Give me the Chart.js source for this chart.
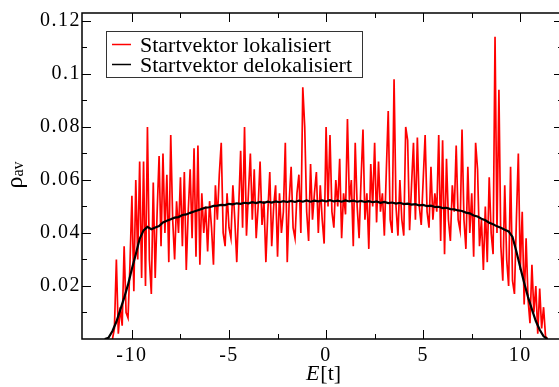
<!DOCTYPE html>
<html>
<head>
<meta charset="utf-8">
<script src="https://cdn.jsdelivr.net/npm/chart.js@4.4.1/dist/chart.umd.min.js"></script>
<style>
html, body { margin:0; padding:0; background:#fff; overflow:hidden; }
</style>
</head>
<body>
<canvas id="rhoChart" width="566" height="387"></canvas>
<script>

// energy grid and averaged density, localized start vector
var redE = [-11.0,-10.9,-10.8,-10.7,-10.6,-10.5,-10.4,-10.3,-10.2,-10.1,
  -10.0,-9.9,-9.8,-9.7,-9.6,-9.5,-9.4,-9.3,-9.2,-9.1,
  -9.0,-8.9,-8.8,-8.7,-8.6,-8.5,-8.4,-8.3,-8.2,-8.1,
  -8.0,-7.9,-7.8,-7.7,-7.6,-7.5,-7.4,-7.3,-7.2,-7.1,
  -7.0,-6.9,-6.8,-6.7,-6.6,-6.5,-6.4,-6.3,-6.2,-6.1,
  -6.0,-5.9,-5.8,-5.7,-5.6,-5.5,-5.4,-5.3,-5.2,-5.1,
  -5.0,-4.9,-4.8,-4.7,-4.6,-4.5,-4.4,-4.3,-4.2,-4.1,
  -4.0,-3.9,-3.8,-3.7,-3.6,-3.5,-3.4,-3.3,-3.2,-3.1,
  -3.0,-2.9,-2.8,-2.7,-2.6,-2.5,-2.4,-2.3,-2.2,-2.1,
  -2.0,-1.9,-1.8,-1.7,-1.6,-1.5,-1.4,-1.3,-1.2,-1.1,
  -1.0,-0.9,-0.8,-0.7,-0.6,-0.5,-0.4,-0.3,-0.2,-0.1,
  0.0,0.1,0.2,0.3,0.4,0.5,0.6,0.7,0.8,0.9,
  1.0,1.1,1.2,1.3,1.4,1.5,1.6,1.7,1.8,1.9,
  2.0,2.1,2.2,2.3,2.4,2.5,2.6,2.7,2.8,2.9,
  3.0,3.1,3.2,3.3,3.4,3.5,3.6,3.7,3.8,3.9,
  4.0,4.1,4.2,4.3,4.4,4.5,4.6,4.7,4.8,4.9,
  5.0,5.1,5.2,5.3,5.4,5.5,5.6,5.7,5.8,5.9,
  6.0,6.1,6.2,6.3,6.4,6.5,6.6,6.7,6.8,6.9,
  7.0,7.1,7.2,7.3,7.4,7.5,7.6,7.7,7.8,7.9,
  8.0,8.1,8.2,8.3,8.4,8.5,8.6,8.7,8.8,8.9,
  9.0,9.1,9.2,9.3,9.4,9.5,9.6,9.7,9.8,9.9,
  10.0,10.1,10.2,10.3,10.4,10.5,10.6,10.7,10.8,10.9,
  11.0,11.1,11.2,11.3,11.4];
var redRho = [0.000,0.004,0.030,0.002,0.012,0.005,0.035,0.010,0.008,0.028,
  0.054,0.018,0.060,0.030,0.067,0.023,0.067,0.020,0.080,0.030,
  0.017,0.059,0.023,0.048,0.069,0.035,0.070,0.040,0.062,0.029,
  0.077,0.045,0.030,0.052,0.040,0.061,0.035,0.063,0.026,0.048,
  0.064,0.038,0.072,0.031,0.073,0.028,0.055,0.040,0.050,0.033,
  0.052,0.042,0.028,0.058,0.045,0.062,0.074,0.040,0.035,0.055,
  0.042,0.038,0.058,0.045,0.029,0.050,0.071,0.042,0.080,0.039,
  0.055,0.070,0.045,0.064,0.038,0.050,0.067,0.043,0.052,0.029,
  0.048,0.063,0.035,0.050,0.058,0.031,0.055,0.040,0.048,0.074,
  0.029,0.052,0.065,0.042,0.038,0.055,0.062,0.040,0.095,0.080,
  0.048,0.037,0.066,0.045,0.055,0.063,0.040,0.058,0.045,0.036,
  0.080,0.050,0.077,0.048,0.042,0.060,0.050,0.068,0.038,0.055,
  0.047,0.083,0.052,0.060,0.035,0.074,0.050,0.038,0.060,0.079,
  0.045,0.055,0.034,0.066,0.050,0.074,0.044,0.067,0.048,0.055,
  0.039,0.063,0.086,0.045,0.040,0.098,0.050,0.039,0.060,0.045,
  0.039,0.080,0.075,0.041,0.058,0.074,0.045,0.076,0.050,0.043,
  0.060,0.077,0.048,0.042,0.065,0.045,0.055,0.048,0.077,0.037,
  0.075,0.032,0.068,0.045,0.037,0.058,0.048,0.073,0.045,0.041,
  0.079,0.045,0.034,0.065,0.040,0.055,0.031,0.074,0.064,0.035,
  0.045,0.026,0.050,0.029,0.061,0.040,0.032,0.114,0.040,0.094,
  0.035,0.022,0.058,0.030,0.020,0.065,0.022,0.017,0.045,0.070,
  0.026,0.048,0.013,0.038,0.015,0.006,0.028,0.010,0.020,0.002,
  0.019,0.004,0.012,0.001,0.000];

// delocalized start vector
var blackE = [-11.4,-11.2,-11.0,-10.8,-10.6,-10.4,-10.2,-10.0,-9.8,-9.6,
  -9.4,-9.2,-9.0,-8.8,-8.6,-8.4,-8.2,-8.0,-7.8,-7.6,
  -7.4,-7.2,-7.0,-6.8,-6.6,-6.4,-6.2,-6.0,-5.8,-5.6,
  -5.4,-5.2,-5.0,-4.8,-4.6,-4.4,-4.2,-4.0,-3.8,-3.6,
  -3.4,-3.2,-3.0,-2.8,-2.6,-2.4,-2.2,-2.0,-1.8,-1.6,
  -1.4,-1.2,-1.0,-0.8,-0.6,-0.4,-0.2,0.0,0.2,0.4,
  0.6,0.8,1.0,1.2,1.4,1.6,1.8,2.0,2.2,2.4,
  2.6,2.8,3.0,3.2,3.4,3.6,3.8,4.0,4.2,4.4,
  4.6,4.8,5.0,5.2,5.4,5.6,5.8,6.0,6.2,6.4,
  6.6,6.8,7.0,7.2,7.4,7.6,7.8,8.0,8.2,8.4,
  8.6,8.8,9.0,9.2,9.4,9.6,9.8,10.0,10.2,10.4,
  10.6,10.8,11.0,11.2,11.4];
var blackRho = [0,0.0005,0.003,0.0065,0.011,0.0155,0.0205,0.0265,0.032,0.0378,
  0.041,0.0423,0.0414,0.0421,0.0426,0.0440,0.0446,0.0452,0.0458,0.0460,
  0.0468,0.0470,0.0476,0.0481,0.0486,0.0491,0.0496,0.0497,0.0502,0.0503,
  0.0506,0.0505,0.0510,0.0508,0.0512,0.0510,0.0514,0.0512,0.0516,0.0513,
  0.0517,0.0514,0.0518,0.0515,0.0519,0.0516,0.0520,0.0517,0.0521,0.0517,
  0.0522,0.0518,0.0523,0.0518,0.0522,0.0519,0.0523,0.0519,0.0524,0.0519,
  0.0522,0.0518,0.0523,0.0519,0.0522,0.0518,0.0521,0.0517,0.0520,0.0516,
  0.0519,0.0514,0.0517,0.0513,0.0515,0.0511,0.0514,0.0509,0.0511,0.0507,
  0.0509,0.0504,0.0506,0.0501,0.0503,0.0498,0.0499,0.0494,0.0495,0.0490,
  0.0489,0.0485,0.0483,0.0477,0.0474,0.0466,0.0462,0.0454,0.0448,0.0439,
  0.0433,0.0425,0.0420,0.0412,0.0406,0.0385,0.033,0.027,0.0212,0.0158,
  0.0112,0.0068,0.0035,0.001,0];

var seriesNames = ["Startvektor lokalisiert", "Startvektor delokalisiert"];
var xTickLabels = [-10, -5, 0, 5, 10];
var xMinorTicks = [-7.5, -2.5, 2.5, 7.5];
var yTickLabels = [0.02, 0.04, 0.06, 0.08, 0.1, 0.12];
var yMinorTicks = [0.01, 0.03, 0.05, 0.07, 0.09, 0.11];

var SERIF = "'Liberation Serif', 'DejaVu Serif', serif";


function to_points(xs, ys){
    var pts = [];
    for (var i = 0; i < xs.length; i++) pts.push({x: xs[i], y: ys[i]});
    return pts;
}//to_points


// frame, inward ticks on all four sides, legend box and axis titles
var decor_plugin = {
  id: 'decor',
  beforeDraw: function(chart){
    chart.ctx.letterSpacing = '1.5px';
  },
  afterDraw: function(chart){
    var ctx = chart.ctx, a = chart.chartArea;
    var xs = chart.scales.x, ys = chart.scales.y;
    ctx.save();
    ctx.letterSpacing = '0px';

    ctx.strokeStyle = '#000';
    ctx.lineWidth = 1;
    function xtick(v, len){
      var p = Math.round(xs.getPixelForValue(v)) + 0.5;
      ctx.beginPath();
      ctx.moveTo(p, a.bottom); ctx.lineTo(p, a.bottom - len);
      ctx.moveTo(p, a.top); ctx.lineTo(p, a.top + len);
      ctx.stroke();
    }
    function ytick(v, len){
      var p = Math.round(ys.getPixelForValue(v)) + 0.5;
      ctx.beginPath();
      ctx.moveTo(a.left, p); ctx.lineTo(a.left + len, p);
      ctx.moveTo(a.right, p); ctx.lineTo(a.right - len, p);
      ctx.stroke();
    }
    xTickLabels.forEach(function(v){ xtick(v, 9); });
    xMinorTicks.forEach(function(v){ xtick(v, 5); });
    yTickLabels.forEach(function(v){ ytick(v, 9); });
    yMinorTicks.forEach(function(v){ ytick(v, 5); });

    ctx.lineWidth = 1.5;
    ctx.strokeRect(a.left, a.top, a.right - a.left, a.bottom - a.top);

    // legend
    var ds = chart.data.datasets;
    ctx.fillStyle = '#fff';
    ctx.fillRect(106.5, 31.5, 256, 46);
    ctx.strokeStyle = '#333';
    ctx.lineWidth = 1;
    ctx.strokeRect(106.5, 31.5, 256, 46);
    ctx.font = '22px ' + SERIF;
    ctx.textAlign = 'left';
    ctx.textBaseline = 'alphabetic';
    for (var i = 0; i < ds.length; i++){
      var ly = 44.5 + i * 20;
      ctx.strokeStyle = ds[i].borderColor;
      ctx.lineWidth = 1.5;
      ctx.beginPath(); ctx.moveTo(112, ly); ctx.lineTo(131, ly); ctx.stroke();
      ctx.fillStyle = '#000';
      ctx.fillText(ds[i].label, 140, 52 + i * 20);
    }

    // x title: E[t]
    ctx.font = 'italic 22px ' + SERIF;
    var wE = ctx.measureText('E').width;
    ctx.font = '22px ' + SERIF;
    var wT = ctx.measureText('[t]').width;
    var x0 = 323 - (wE + wT) / 2;
    ctx.font = 'italic 22px ' + SERIF;
    ctx.fillText('E', x0, 380);
    ctx.font = '22px ' + SERIF;
    ctx.fillText('[t]', x0 + wE + 1, 380);

    // y title: rho with subscript av
    ctx.translate(22, 175);
    ctx.rotate(-Math.PI / 2);
    ctx.font = '24px ' + SERIF;
    var wr = ctx.measureText('ρ').width;
    ctx.font = '16px ' + SERIF;
    var wa = ctx.measureText('av').width;
    var s = -(wr + wa) / 2;
    ctx.font = '24px ' + SERIF;
    ctx.fillText('ρ', s, 0);
    ctx.font = '16px ' + SERIF;
    ctx.fillText('av', s + wr, 1);

    ctx.restore();
  }
};//decor_plugin


function get_rho_chart(){

    new Chart("rhoChart", {
      type: "line",
      data: {
        datasets: [{
          label: seriesNames[0],
          data: to_points(redE, redRho),
          borderColor: "#ff0000",
          borderWidth: 1.7,
          pointRadius: 0,
          tension: 0,
          fill: false,
          order: 2
        },{
          label: seriesNames[1],
          data: to_points(blackE, blackRho),
          borderColor: "#000000",
          borderWidth: 2.2,
          pointRadius: 0,
          tension: 0,
          fill: false,
          order: 1
        }]
      },
      options: {
        responsive: false,
        animation: false,
        devicePixelRatio: 1,
        layout: {padding: {top: 7, right: 3, left: 0, bottom: 0}},
        plugins: {
          legend: {display: false},
          tooltip: {enabled: false}
        },
        scales: {
          x: {
            type: "linear",
            min: -12.57,
            max: 12.2,
            grid: {display: false, drawTicks: false},
            border: {display: false},
            ticks: {
              color: "#000",
              padding: 5,
              maxRotation: 0,
              font: {family: SERIF, size: 20},
              callback: function(v){ return String(v); }
            },
            afterBuildTicks: function(scale){
              scale.ticks = xTickLabels.map(function(v){ return {value: v}; });
            },
            afterFit: function(scale){ scale.height = 48; }
          },
          y: {
            type: "linear",
            min: 0,
            max: 0.123,
            grid: {display: false, drawTicks: false},
            border: {display: false},
            ticks: {
              color: "#000",
              padding: 1,
              font: {family: SERIF, size: 20},
              callback: function(v){ return String(v); }
            },
            afterBuildTicks: function(scale){
              scale.ticks = yTickLabels.map(function(v){ return {value: v}; });
            },
            afterFit: function(scale){ scale.width = 82; }
          }
        }
      },
      plugins: [decor_plugin]
    });

}//get_rho_chart


get_rho_chart();
</script>
</body>
</html>
